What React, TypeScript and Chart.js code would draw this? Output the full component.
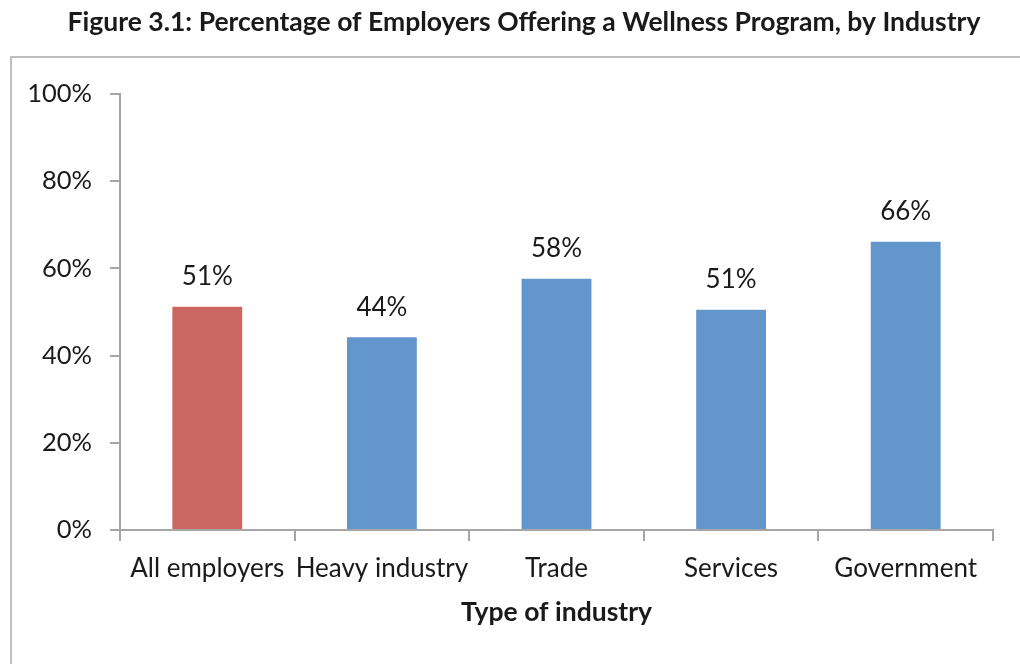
import React, { useEffect, useRef } from "react";
import { Chart, registerables } from "chart.js";

Chart.register(...registerables);

const TITLE = "Figure 3.1: Percentage of Employers Offering a Wellness Program, by Industry";
const X_TITLE = "Type of industry";
const categories = ["All employers", "Heavy industry", "Trade", "Services", "Government"];
const values = [51.2, 44.2, 57.6, 50.5, 66.1];
const valueLabels = ["51%", "44%", "58%", "51%", "66%"];
const barColors = ["#CC6660", "#6396CB", "#6396CB", "#6396CB", "#6396CB"];
const yTicks = [0, 20, 40, 60, 80, 100];

const FONT = "Lato, 'Open Sans', sans-serif";

const framePlugin = {
  id: "frameAndTitle",
  beforeDraw(chart: any) {
    const ctx = chart.ctx;
    ctx.save();
    ctx.fillStyle = "#ffffff";
    ctx.fillRect(0, 0, chart.width, chart.height);
    ctx.strokeStyle = "#BEBEBE";
    ctx.lineWidth = 2;
    ctx.beginPath();
    ctx.moveTo(11, chart.height + 5);
    ctx.lineTo(11, 57);
    ctx.lineTo(chart.width + 5, 57);
    ctx.stroke();
    ctx.fillStyle = "#1a1a1a";
    ctx.font = `bold 26.5px ${FONT}`;
    ctx.textAlign = "center";
    ctx.textBaseline = "middle";
    ctx.fillText(TITLE, 524, 22);
    ctx.restore();
  },
  afterDatasetsDraw(chart: any) {
    const ctx = chart.ctx;
    const meta = chart.getDatasetMeta(0);
    ctx.save();
    ctx.fillStyle = "#1a1a1a";
    ctx.font = `26px ${FONT}`;
    ctx.textAlign = "center";
    ctx.textBaseline = "middle";
    meta.data.forEach((bar: any, i: number) => {
      ctx.fillText(valueLabels[i], bar.x, bar.y - 30);
    });
    ctx.restore();
  },
};

export default function App() {
  const ref = useRef<HTMLCanvasElement | null>(null);
  useEffect(() => {
    if (!ref.current) return;
    const chart = new Chart(ref.current, {
      type: "bar",
      data: {
        labels: categories,
        datasets: [
          {
            data: values,
            backgroundColor: barColors,
            borderWidth: 0,
            barPercentage: 0.4,
            categoryPercentage: 1,
          },
        ],
      },
      options: {
        responsive: false,
        animation: false,
        layout: { padding: { top: 94, right: 27, bottom: 0, left: 0 } },
        plugins: { legend: { display: false }, tooltip: { enabled: false }, title: { display: false } },
        scales: {
          x: {
            grid: { drawOnChartArea: false, drawTicks: true, tickLength: 11, color: "#A6A6A6", lineWidth: 2, offset: true },
            border: { display: true, color: "#A6A6A6", width: 2 },
            ticks: { color: "#1a1a1a", font: { family: FONT, size: 26 }, padding: 12, maxRotation: 0, autoSkip: false },
            title: { display: true, text: X_TITLE, color: "#1a1a1a", font: { family: FONT, size: 26.5, weight: "bold" }, padding: { top: 0, bottom: 36 } },
            afterFit(scale: any) {
              scale.height = 134;
            },
          },
          y: {
            min: 0,
            max: 100,
            afterBuildTicks(scale: any) {
              scale.ticks = yTicks.map((v) => ({ value: v }));
            },
            grid: { drawOnChartArea: false, drawTicks: true, tickLength: 10, color: "#A6A6A6", lineWidth: 2 },
            border: { display: true, color: "#A6A6A6", width: 2 },
            ticks: { color: "#1a1a1a", font: { family: FONT, size: 25.5 }, padding: 18, callback: (v: any) => `${v}%` },
            afterFit(scale: any) {
              scale.width = 120;
            },
          },
        },
      },
      plugins: [framePlugin],
    });
    return () => chart.destroy();
  }, []);
  return (
    <div style={{ position: "fixed", left: 0, top: 0, width: 1020, height: 664, background: "#fff" }}>
      <canvas ref={ref} width={1020} height={664} style={{ display: "block" }} />
    </div>
  );
}
